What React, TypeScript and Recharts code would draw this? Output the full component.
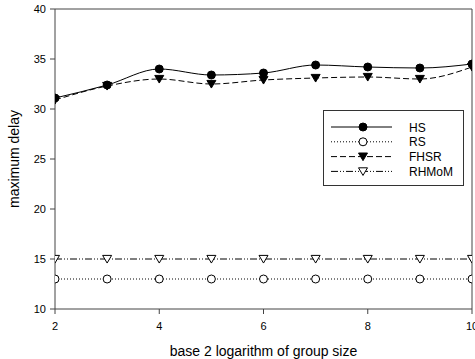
import React from 'react';
import { LineChart, Line, XAxis, YAxis, ReferenceLine, Label } from 'recharts';

const groupSize = [2, 3, 4, 5, 6, 7, 8, 9, 10];
const hs = [31.1, 32.4, 34.0, 33.4, 33.6, 34.4, 34.2, 34.1, 34.5];
const rs = [13, 13, 13, 13, 13, 13, 13, 13, 13];
const fhsr = [30.9, 32.3, 33.0, 32.5, 32.9, 33.1, 33.2, 33.0, 34.2];
const rhmom = [15, 15, 15, 15, 15, 15, 15, 15, 15];
const xTicks = [2, 4, 6, 8, 10];
const yTicks = [10, 15, 20, 25, 30, 35, 40];

const data = groupSize.map((g, i) => ({ g, HS: hs[i], RS: rs[i], FHSR: fhsr[i], RHMoM: rhmom[i] }));

const FONT = '"Liberation Sans", Arial, sans-serif';
const AX = '#444';

const Tri = ({ cx, cy, fill }: any) => {
  if (cx == null || cy == null) return null;
  const s = 4.5;
  return <path d={`M${cx - s},${cy - s * 0.8} L${cx + s},${cy - s * 0.8} L${cx},${cy + s * 0.9} Z`} fill={fill} stroke="#000" strokeWidth={1} />;
};

const series = [
  { key: 'HS', dash: undefined, marker: 'circle', fill: '#000' },
  { key: 'RS', dash: '1 2', marker: 'circle', fill: '#fff' },
  { key: 'FHSR', dash: '6 3', marker: 'tri', fill: '#000' },
  { key: 'RHMoM', dash: '7 2 1 2 1 2', marker: 'tri', fill: '#fff' },
];

const LegendBox = () => (
  <div style={{ position: 'absolute', left: 323, top: 110, width: 141, height: 76, border: '1px solid #333', background: '#fff', boxSizing: 'border-box' }}>
    <svg width={139} height={74} style={{ position: 'absolute', left: 0, top: 0 }}>
      {series.map((s, i) => {
        const y = 16 + i * 14.8;
        return (
          <g key={s.key}>
            <line x1={7} x2={68} y1={y} y2={y} stroke="#000" strokeWidth={1} strokeDasharray={s.dash} />
            {s.marker === 'circle' ? (
              <circle cx={39} cy={y} r={4} fill={s.fill} stroke="#000" />
            ) : (
              <Tri cx={39} cy={y} fill={s.fill} />
            )}
            <text x={85} y={y + 4.5} fontSize={12} fontFamily={FONT} fill="#000">{s.key}</text>
          </g>
        );
      })}
    </svg>
  </div>
);

const XLabel = (props: any) => {
  const vb = props.viewBox || {};
  const cx = (vb.x ?? 0) + (vb.width ?? 0) / 2;
  return (
    <text x={cx} y={356} textAnchor="middle" fontSize={14} fontFamily={FONT} fill="#000">
      base 2 logarithm of group size
    </text>
  );
};

export default function App() {
  return (
    <div style={{ position: 'fixed', left: 0, top: 0, width: 475, height: 359, background: '#fff' }}>
      <LineChart width={475} height={359} data={data} margin={{ top: 9, right: 3, bottom: 0, left: 0 }}>
        <XAxis
          dataKey="g"
          type="number"
          domain={[2, 10]}
          ticks={xTicks}
          height={50}
          stroke={AX}
          tickSize={5}
          tickMargin={8}
          tick={{ fill: '#000', fontSize: 11, fontFamily: FONT }}
          interval={0}
          allowDataOverflow
        >
          <Label content={<XLabel />} />
        </XAxis>
        <YAxis
          type="number"
          domain={[10, 40]}
          ticks={yTicks}
          width={55}
          stroke={AX}
          tickSize={5}
          tickMargin={4}
          tick={{ fill: '#000', fontSize: 11, fontFamily: FONT }}
          interval={0}
        >
          <Label value="maximum delay" angle={-90} position="insideLeft" offset={14} style={{ fontSize: 14, fontFamily: FONT, fill: '#000', textAnchor: 'middle' }} />
        </YAxis>
        <ReferenceLine y={40} stroke={AX} strokeWidth={1} />
        <ReferenceLine x={10} stroke={AX} strokeWidth={1} />
        {series.map((s) => (
          <Line
            key={s.key}
            dataKey={s.key}
            type="monotone"
            stroke="#000"
            strokeWidth={1}
            strokeDasharray={s.dash}
            isAnimationActive={false}
            dot={(p: any) =>
              s.marker === 'circle' ? (
                <circle key={p.index} cx={p.cx} cy={p.cy} r={4} fill={s.fill} stroke="#000" strokeWidth={1} />
              ) : (
                <Tri key={p.index} cx={p.cx} cy={p.cy} fill={s.fill} />
              )
            }
            activeDot={false}
          />
        ))}
      </LineChart>
      <LegendBox />
    </div>
  );
}
